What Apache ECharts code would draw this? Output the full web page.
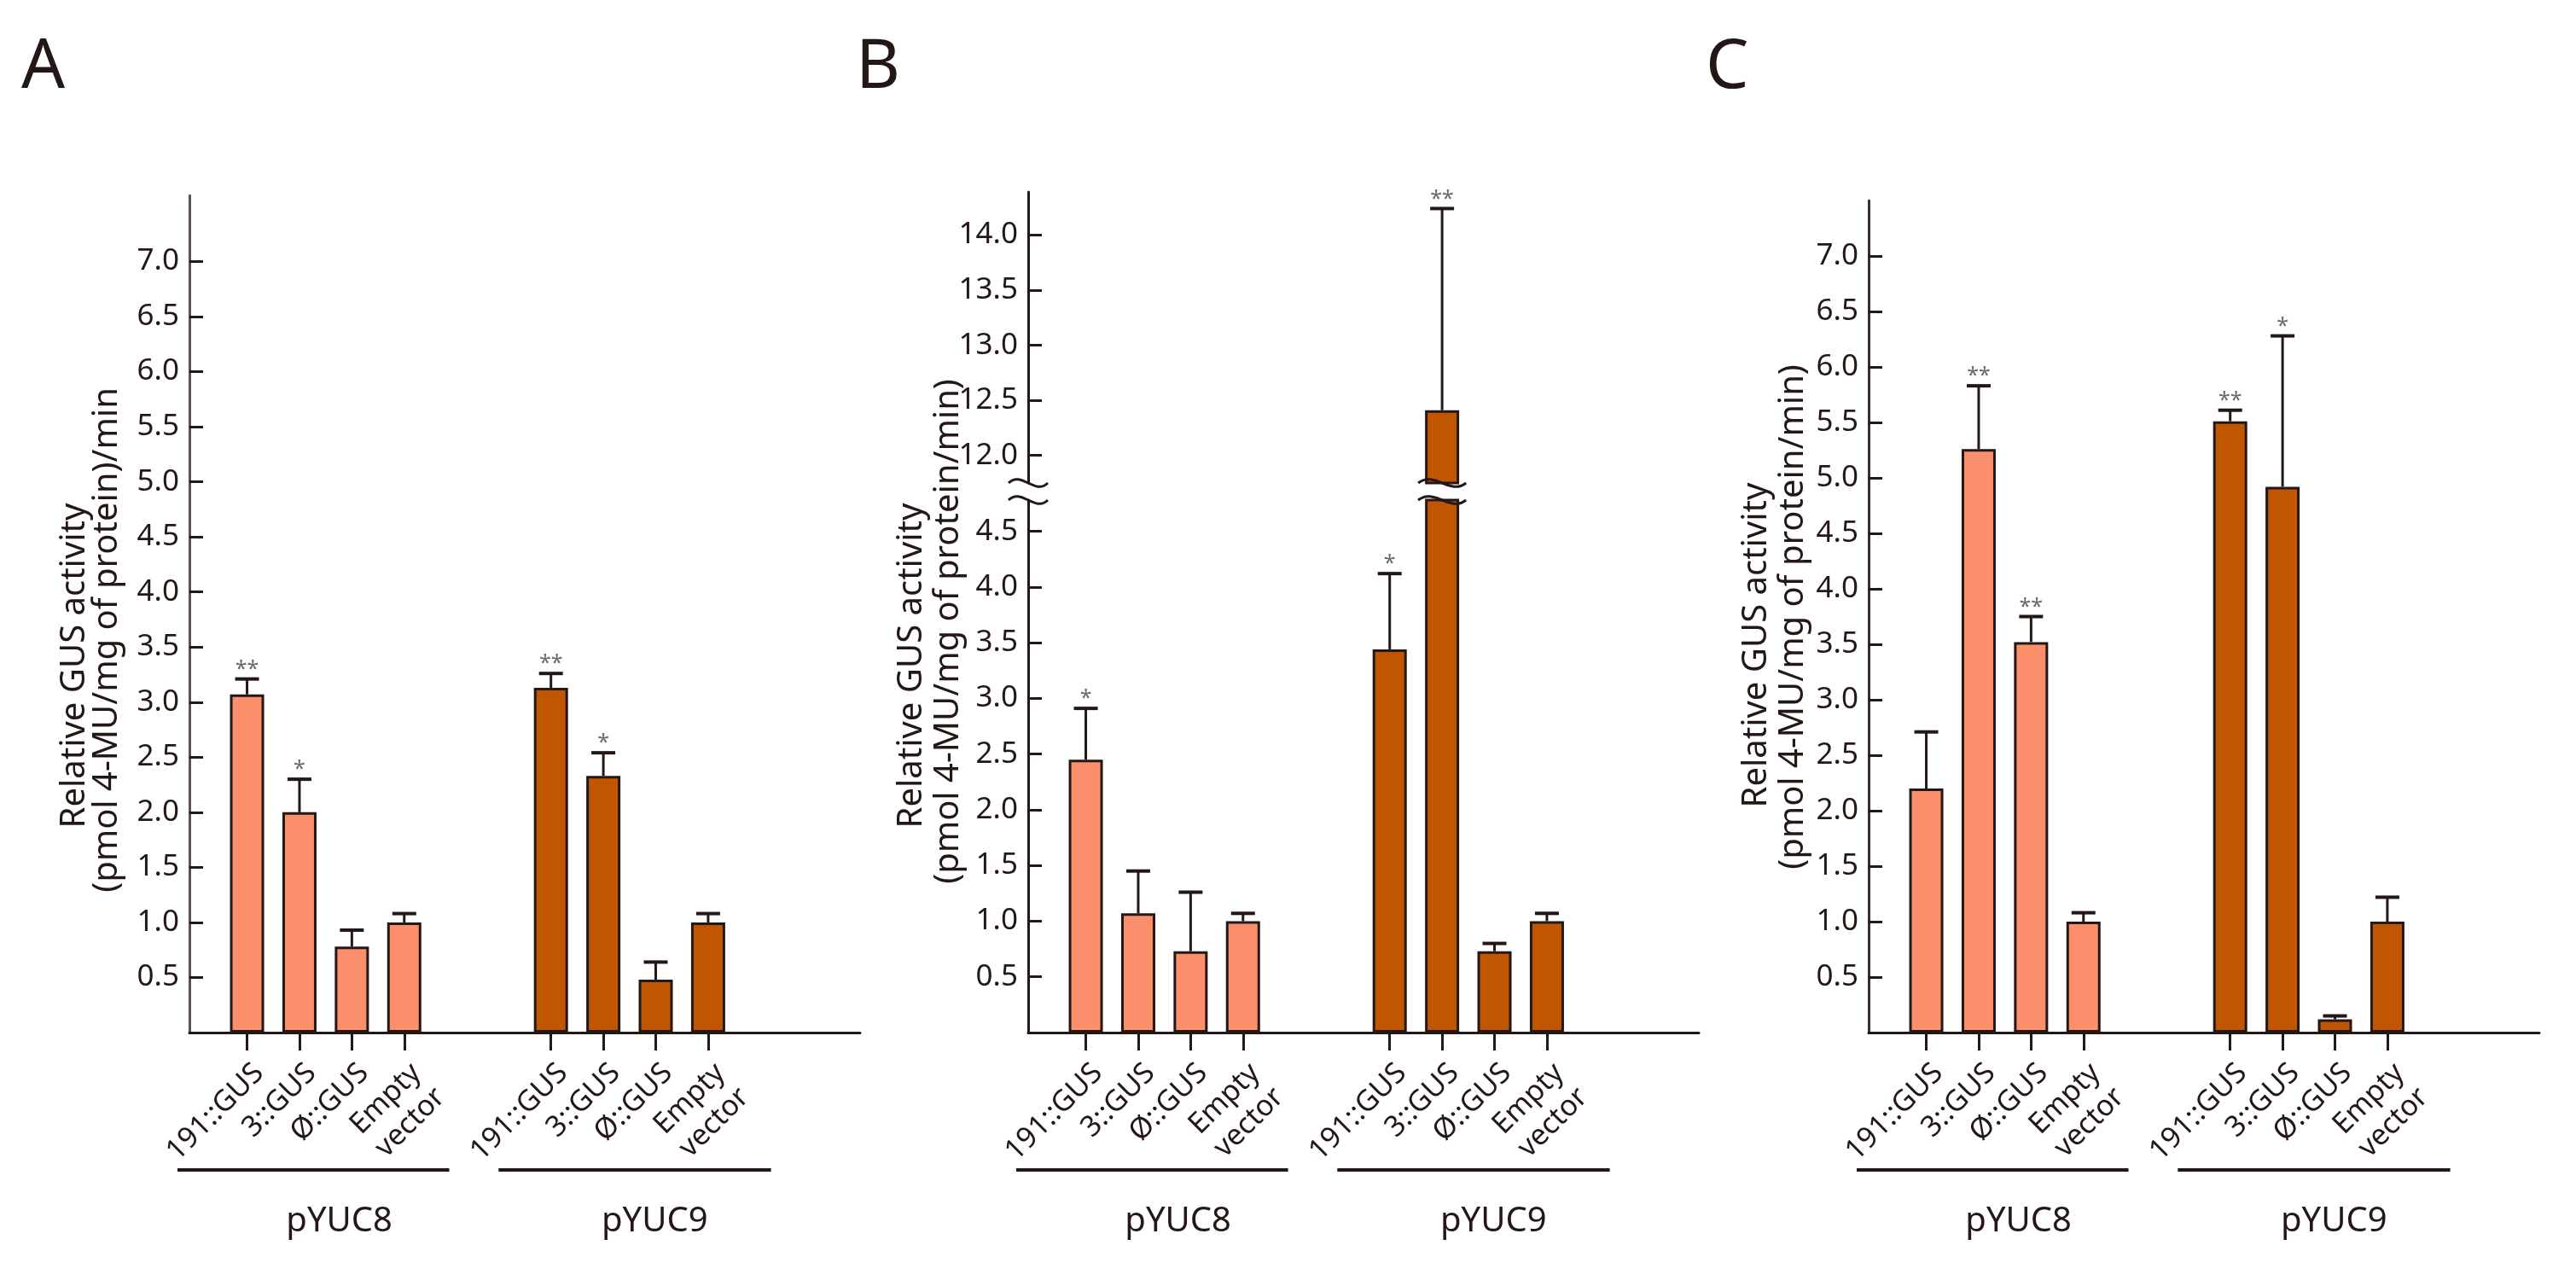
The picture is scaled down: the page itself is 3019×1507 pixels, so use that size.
<!DOCTYPE html>
<html>
<head>
<meta charset="utf-8">
<script src="https://cdn.jsdelivr.net/npm/echarts@6/dist/echarts.min.js"></script>
<style>
html,body{margin:0;padding:0;background:#ffffff;}
#chart{width:3019px;height:1507px;}
</style>
</head>
<body>
<div id="chart"></div>
<script>
// ---------------- data ----------------
const categories = ['191::GUS', '3::GUS', 'Ø::GUS', 'Empty\nvector'];
const groups = ['pYUC8', 'pYUC9'];
const panelLetters = ['A', 'B', 'C'];

const valuesA = [3.07, 2.00, 0.78, 1.00, 3.13, 2.33, 0.48, 1.00];
const errTopA = [3.21, 2.30, 0.93, 1.08, 3.26, 2.54, 0.64, 1.08];
const starsA  = ['**', '*', '', '', '**', '*', '', ''];

const valuesB = [2.45, 1.07, 0.73, 1.00, 3.44, 12.41, 0.73, 1.00];
const errTopB = [2.91, 1.45, 1.26, 1.07, 4.12, 14.24, 0.80, 1.07];
const starsB  = ['*', '', '', '', '*', '**', '', ''];

const valuesC = [2.20, 5.26, 3.52, 1.00, 5.51, 4.92, 0.12, 1.00];
const errTopC = [2.71, 5.83, 3.75, 1.08, 5.61, 6.28, 0.15, 1.22];
const starsC  = ['', '**', '**', '', '**', '*', '', ''];

const yTicksAC    = [0.5, 1.0, 1.5, 2.0, 2.5, 3.0, 3.5, 4.0, 4.5, 5.0, 5.5, 6.0, 6.5, 7.0];
const yTicksBLow  = [0.5, 1.0, 1.5, 2.0, 2.5, 3.0, 3.5, 4.0, 4.5];
const yTicksBHigh = [12.0, 12.5, 13.0, 13.5, 14.0];

const titleLine1  = 'Relative GUS activity';
const titleLine2A = '(pmol 4-MU/mg of protein)/min';
const titleLine2BC = '(pmol 4-MU/mg of protein/min)';

// ---------------- layout / style ----------------
const FONT = "'Noto Sans', 'Open Sans', sans-serif";
const INK = '#231815';
const AXIS_A = '#5e5250';
const LIGHT = '#FC8F6B';
const DARK = '#C05600';
const SLOTS = 64;
const slotOfBar = [5, 10, 15, 20, 34, 39, 44, 49];
const GRID_W = 786;
const BAR_W = 40;

const panelsLayout = [
  { left: 222,  letterX: 25,   titles: [[-134, 780], [-96, 750]] },
  { left: 1205, letterX: 1003, titles: [[-136, 780], [-93, 740]] },
  { left: 2190, letterX: 1999, titles: [[-131, 756], [-88, 723]] }
];
const underlineSlots = [[-1.14, 24.8], [29.5, 55.5]];
const groupLabelSlots = [14.3, 44.4];
const UNDERLINE_Y = 1371;
const GROUP_LABEL_Y = 1432;

// ---------------- helpers ----------------
function xCats() {
  const a = new Array(SLOTS).fill('');
  slotOfBar.forEach((s, i) => { a[s] = categories[i % 4]; });
  return a;
}
function barData(vals) {
  const a = new Array(SLOTS).fill('-');
  vals.forEach((v, i) => {
    a[slotOfBar[i]] = { value: v, itemStyle: { color: i < 4 ? LIGHT : DARK } };
  });
  return a;
}
function errItems(vals, errs, stars, filter) {
  const out = [];
  vals.forEach((v, i) => {
    if (filter(v, i)) out.push({ value: [slotOfBar[i], v, errs[i]], star: stars[i] });
  });
  return out;
}
function xAxisCfg(g, show) {
  return {
    type: 'category', gridIndex: g, data: xCats(), boundaryGap: true, show: show,
    axisLine: { show: true, onZero: false, lineStyle: { color: INK, width: 3 } },
    axisTick: { show: true, alignWithLabel: true, length: 21,
      interval: (idx) => slotOfBar.indexOf(idx) >= 0,
      lineStyle: { color: INK, width: 3 } },
    axisLabel: { show: true, interval: 0, rotate: 45, margin: 28, fontSize: 34,
      align: 'right', verticalAlign: 'top',
      fontFamily: FONT, color: INK, lineHeight: 40 },
    splitLine: { show: false }
  };
}
function yAxisCfg(g, min, max, ticks, color) {
  return {
    type: 'value', gridIndex: g, min: min, max: max,
    axisLine: { show: true, lineStyle: { color: color, width: 3 } },
    axisTick: { show: true, inside: true, length: 16, customValues: ticks,
      lineStyle: { color: INK, width: 3 } },
    axisLabel: { show: true, customValues: ticks, formatter: (v) => Number(v).toFixed(1),
      margin: 12, fontSize: 35, fontFamily: FONT, color: INK },
    splitLine: { show: false }
  };
}
function barSeries(g, vals) {
  return {
    type: 'bar', xAxisIndex: g, yAxisIndex: g, data: barData(vals), barWidth: BAR_W,
    clip: true, silent: true,
    itemStyle: { borderColor: INK, borderWidth: 3 }
  };
}
function errSeries(g, items) {
  return {
    type: 'custom', xAxisIndex: g, yAxisIndex: g, silent: true, z: 5,
    data: items.map(d => d.value),
    renderItem: function (params, api) {
      const p0 = api.coord([api.value(0), api.value(1)]);
      const p1 = api.coord([api.value(0), api.value(2)]);
      const star = items[params.dataIndex].star;
      const children = [
        { type: 'line', shape: { x1: p0[0], y1: p0[1], x2: p1[0], y2: p1[1] },
          style: { stroke: INK, lineWidth: 3 } },
        { type: 'line', shape: { x1: p1[0] - 14, y1: p1[1], x2: p1[0] + 14, y2: p1[1] },
          style: { stroke: INK, lineWidth: 4 } }
      ];
      if (star) {
        children.push({ type: 'text', x: p1[0], y: p1[1] - 11,
          style: { text: star, align: 'center', verticalAlign: 'middle',
            fontSize: 25, fontFamily: FONT, fill: '#6a6a6a' } });
      }
      return { type: 'group', children: children };
    }
  };
}

// ---------------- option ----------------
const BLOW_MAX = 4.78, BHIGH_MIN = 11.75;
const grids = [
  { left: 222,  top: 229, width: GRID_W, height: 981 },   // A
  { left: 1205, top: 586, width: GRID_W, height: 624 },   // B lower
  { left: 1205, top: 225, width: GRID_W, height: 341 },   // B upper
  { left: 2190, top: 235, width: GRID_W, height: 975 }    // C
].map(g => Object.assign({ containLabel: false, outerBoundsMode: 'none' }, g));

const option = {
  animation: false,
  backgroundColor: '#ffffff',
  textStyle: { fontFamily: FONT },
  grid: grids,
  xAxis: [xAxisCfg(0, true), xAxisCfg(1, true), xAxisCfg(2, false), xAxisCfg(3, true)],
  yAxis: [
    yAxisCfg(0, 0, 7.6, yTicksAC, AXIS_A),
    yAxisCfg(1, 0, BLOW_MAX, yTicksBLow, INK),
    yAxisCfg(2, BHIGH_MIN, 14.39, yTicksBHigh, INK),
    yAxisCfg(3, 0, 7.5, yTicksAC, '#3a2e2c')
  ],
  series: [
    barSeries(0, valuesA),
    errSeries(0, errItems(valuesA, errTopA, starsA, () => true)),
    barSeries(1, valuesB),
    errSeries(1, errItems(valuesB, errTopB, starsB, (v) => v <= BLOW_MAX)),
    barSeries(2, valuesB),
    errSeries(2, errItems(valuesB, errTopB, starsB, (v) => v > BLOW_MAX)),
    barSeries(3, valuesC),
    errSeries(3, errItems(valuesC, errTopC, starsC, () => true))
  ]
};

const chart = echarts.init(document.getElementById('chart'), null, { renderer: 'canvas' });
chart.setOption(option);

// ---------------- annotations ----------------
const graphics = [];
const xAxisOfPanel = [0, 1, 3];
panelsLayout.forEach((p, pi) => {
  const xi = xAxisOfPanel[pi];
  const c0 = chart.convertToPixel({ xAxisIndex: xi }, 0);
  const c1 = chart.convertToPixel({ xAxisIndex: xi }, 1);
  const band = c1 - c0;
  const x0 = c0 - band / 2;
  graphics.push({ type: 'text', x: p.letterX, y: 80,
    style: { text: panelLetters[pi], fontSize: 80, fontFamily: FONT, fill: INK,
      align: 'left', verticalAlign: 'middle' } });
  const lines = [titleLine1, pi === 0 ? titleLine2A : titleLine2BC];
  lines.forEach((t, li) => {
    graphics.push({ type: 'text', x: p.left + p.titles[li][0], y: p.titles[li][1],
      rotation: Math.PI / 2,
      style: { text: t, fontSize: 40, fontFamily: FONT, fill: INK,
        align: 'center', verticalAlign: 'middle' } });
  });
  groups.forEach((gname, gi) => {
    const u = underlineSlots[gi];
    graphics.push({ type: 'line',
      shape: { x1: x0 + u[0] * band, y1: UNDERLINE_Y, x2: x0 + u[1] * band, y2: UNDERLINE_Y },
      style: { stroke: INK, lineWidth: 4 } });
    graphics.push({ type: 'text', x: x0 + groupLabelSlots[gi] * band, y: GROUP_LABEL_Y,
      style: { text: gname, fontSize: 40, fontFamily: FONT, fill: INK,
        align: 'center', verticalAlign: 'middle' } });
  });
});

// axis-break squiggles in panel B
const yLowTop = chart.convertToPixel({ yAxisIndex: 1 }, BLOW_MAX);
const yHighBottom = chart.convertToPixel({ yAxisIndex: 2 }, BHIGH_MIN);
const bx0 = chart.convertToPixel({ xAxisIndex: 1 }, 0);
const bx1 = chart.convertToPixel({ xAxisIndex: 1 }, 1);
const axisX = bx0 - (bx1 - bx0) / 2;
const tallIdx = valuesB.findIndex(v => v > BLOW_MAX);
const barX = chart.convertToPixel({ xAxisIndex: 1 }, slotOfBar[tallIdx]);
function squiggle(cx, y, half) {
  return { type: 'bezierCurve', z: 10,
    shape: { x1: cx - half, y1: y, x2: cx + half, y2: y,
      cpx1: cx - half * 0.35, cpy1: y - 15, cpx2: cx + half * 0.35, cpy2: y + 15 },
    style: { stroke: INK, lineWidth: 3, fill: null } };
}
[yHighBottom, yLowTop].forEach(y => {
  graphics.push(squiggle(axisX, y, 23));
  graphics.push(squiggle(barX, y, 28));
});

chart.setOption({ graphic: graphics });
</script>
</body>
</html>
